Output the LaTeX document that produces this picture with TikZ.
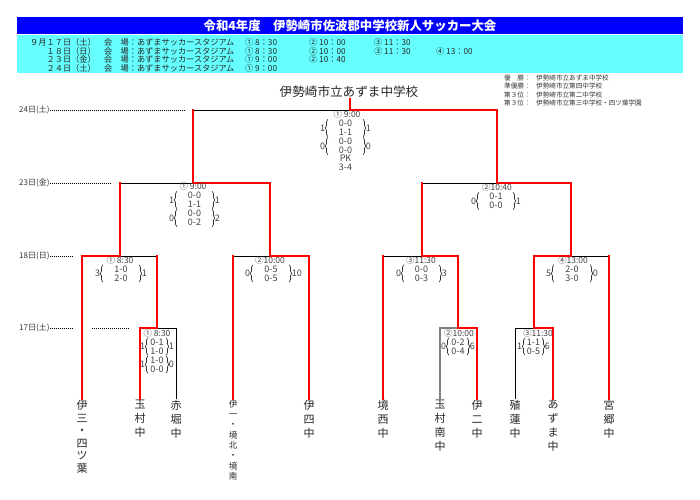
\documentclass[tikz,border=0pt]{standalone}
\usepackage{fontspec}
\setmainfont{Noto Sans CJK JP}
\usetikzlibrary{positioning}
\usetikzlibrary{decorations.pathreplacing}
\definecolor{barblue}{RGB}{0,0,255}
\definecolor{infocyan}{RGB}{102,255,255}
\tikzset{
	win/.style={draw=red, line width=2pt, line cap=rect},
	lose/.style={draw=black, line width=0.9pt},
	gone/.style={draw=black!50, line width=1.4pt},
	dotline/.style={draw=black, line width=0.6pt, dash pattern=on 1pt off 1pt},
	team/.style={
		anchor=north,
		align=center,
		inner sep=1pt,
		text=black!85,
		font=\fontsize{11}{14}\selectfont},
	score/.style={inner sep=0pt, text=black!75, font=\fontsize{9}{9}\selectfont},
	stime/.style={score, font=\fontsize{8.5}{9}\selectfont},
	pair/.style={score, align=center, minimum width=#1, minimum height=17pt},
	pair/.default=36pt,
	brc/.style={draw=black!80, line width=0.7pt, decorate, decoration={brace, amplitude=2.5pt}},
	day/.style={anchor=west, inner sep=0pt, text=black!80, font=\fontsize{8}{9}\selectfont},
	info/.style={anchor=west, inner sep=0pt, text=black!85, font=\fontsize{8.2}{9}\selectfont},
	prize/.style={anchor=west, inner sep=0pt, text=black!80, font=\fontsize{6.6}{7}\selectfont},
}
\begin{document}
\begin{tikzpicture}[x=1pt, y=-1pt]
	\useasboundingbox (0,0) rectangle (700,499);
	% header
	\fill[barblue] (17,17) rectangle (683,34);
	\node[text=white, font=\bfseries\fontsize{12.4}{13}\selectfont] (title) at (350,25.5) {令和4年度　伊勢崎市佐波郡中学校新人サッカー大会};
	\fill[infocyan] (17,35) rectangle (683,73);
	\foreach \d [count=\i] in {９月１７日（土）, １８日（日）, ２３日（金）, ２４日（土）} {
		\node[info, anchor=east] (date\i) at (96,{42.5+8.5*(\i-1)}) {\d};
		\node[info] (site\i) at (104,{42.5+8.5*(\i-1)}) {会　場：あずまサッカースタジアム};
	}
	\node[info] (ka) at (245,42.5) {① 8：30};
	\node[info] (kb) at (309,42.5) {② 10：00};
	\node[info] (kc) at (374,42.5) {③ 11：30};
	\node[info] (ya) at (245,51) {① 8：30};
	\node[info] (yb) at (309,51) {② 10：00};
	\node[info] (yc) at (374,51) {③ 11：30};
	\node[info] (yd) at (436,51) {④ 13：00};
	\node[info] (za) at (245,59.5) {① 9：00};
	\node[info] (zb) at (309,59.5) {② 10：40};
	\node[info] (wa) at (245,68) {① 9：00};
	% results
	\foreach \k/\v [count=\i] in {優　勝/伊勢崎市立あずま中学校, 準優勝/伊勢崎市立第四中学校, 第３位/伊勢崎市立第二中学校, 第３位/伊勢崎市立第三中学校・四ツ葉学園} {
		\node[prize] (rank\i) at (504,{77.5+8.5*(\i-1)}) {\k：};
		\node[prize] (winner\i) at (536,{77.5+8.5*(\i-1)}) {\v};
	}
	\node[font=\fontsize{12.6}{13}\selectfont, text=black!85, inner sep=1pt] (champ) at (349,92) {伊勢崎市立あずま中学校};

	% days
	\node[day] (d24) at (19,110) {24日(土)};
	\node[day] (d23) at (19,183) {23日(金)};
	\node[day] (d18) at (19,256) {18日(日)};
	\node[day] (d17) at (19,328) {17日(土)};
	\coordinate (e24) at (185,110);
	\coordinate (e23) at (110,183);
	\coordinate (e18) at (73,256);
	\coordinate (e17) at (73,328);
	\coordinate (a17) at (92,328);
	\coordinate (b17) at (129,328);
	\draw[dotline] (d24) -- (e24);
	\draw[dotline] (d23) -- (e23);
	\draw[dotline] (d18) -- (e18);
	\draw[dotline] (d17) -- (e17);
	\draw[dotline] (a17) -- (b17);

	% teams
	\node[team, font=\fontsize{11}{12.6}\selectfont] (ise3) at (82,399) {伊\\三\\・\\四\\ツ\\葉};
	\node[team] (tama) at (140,399) {玉\\村\\中};
	\node[team] (akab) at (176,399) {赤\\堀\\中};
	\node[team, font=\fontsize{8.5}{10.3}\selectfont] (ise1) at (233,399) {伊\\一\\・\\境\\北\\・\\境\\南};
	\node[team] (ise4) at (309,399) {伊\\四\\中};
	\node[team] (sakn) at (383,399) {境\\西\\中};
	\node[team] (tamn) at (440,399) {玉\\村\\南\\中};
	\node[team] (ise2) at (477,399) {伊\\二\\中};
	\node[team] (shok) at (515,399) {殖\\蓮\\中};
	\node[team] (azum) at (553,399) {あ\\ず\\ま\\中};
	\node[team] (miya) at (609,399) {宮\\郷\\中};

	% match points
	\coordinate (f) at (350,110);
	\coordinate (sl) at (193,183);
	\coordinate (sr) at (497,183);
	\coordinate (q1) at (120,256);
	\coordinate (q2) at (270,256);
	\coordinate (q3) at (422,256);
	\coordinate (q4) at (571,256);
	\coordinate (r1) at (157,328);
	\coordinate (r2) at (458,328);
	\coordinate (r3) at (534,328);

	% lost lines
	\draw[lose] (sl |- f) -- (f);
	\draw[lose] (q1 |- sl) -- (sl);
	\draw[lose] (q3 |- sr) -- (sr);
	\draw[lose] (r1 |- q1) -- (q1);
	\draw[lose] (akab.north) -- (akab.north |- r1) -- (r1);
	\draw[lose] (ise1.north |- q2) -- (q2);
	\draw[lose] (sakn.north |- q3) -- (q3);
	\draw[lose] (miya.north |- q4) -- (q4);
	\draw[lose] (shok.north) -- (shok.north |- r3) -- (r3);
	\draw[gone] (tamn.north) -- (tamn.north |- r2) -- (r2);
	% winning lines
	\draw[win] (champ.south -| f) -- (f) -- (f -| sr) -- (sr);
	\draw[win] (sl |- f) -- (sl) -- (q2 |- sl) -- (q2);
	\draw[win] (q1 |- sl) -- (q1) -- (q1 -| ise3.north) -- (ise3.north);
	\draw[win] (r1 |- q1) -- (r1) -- (r1 -| tama.north) -- (tama.north);
	\draw[win] (q2) -- (q2 -| ise4.north) -- (ise4.north);
	\draw[win] (ise1.north) -- (ise1.north |- q2);
	\draw[win] (sr) -- (q4 |- sr) -- (q4) -- (q4 -| r3) -- (r3) -- (r3 -| azum.north) -- (azum.north);
	\draw[win] (q3 |- sr) -- (q3) -- (q3 -| r2) -- (r2) -- (r2 -| ise2.north) -- (ise2.north);
	\draw[win] (sakn.north) -- (sakn.north |- q3);
	\draw[win] (miya.north) -- (miya.north |- q4);

	% scores
	\node[stime] (ft) at (347,114.5) {① 9:00};
	\node[pair=35pt] (f1) at (345.5,128) {0-0\\1-1};
	\node[pair=35pt] (f2) at (345.5,146) {0-0\\0-0};
	\node[score, align=center, below=0pt of f2] (fpk) {PK\\3-4};
	\node[score, left=2.5pt of f1] (f1l) {1};
	\node[score, right=2.5pt of f1] (f1r) {1};
	\node[score, left=2.5pt of f2] (f2l) {0};
	\node[score, right=2.5pt of f2] (f2r) {0};

	\node[stime] (slt) at (193,186.5) {① 9:00};
	\node[pair=35pt] (s1) at (194.5,200) {0-0\\1-1};
	\node[pair=35pt] (s2) at (194.5,218) {0-0\\0-2};
	\node[score, left=2.5pt of s1] (s1l) {1};
	\node[score, right=2.5pt of s1] (s1r) {1};
	\node[score, left=2.5pt of s2] (s2l) {0};
	\node[score, right=2.5pt of s2] (s2r) {2};

	\node[stime] (srt) at (497,187) {②10:40};
	\node[pair=34pt] (s3) at (496,201) {0-1\\0-0};
	\node[score, left=2.5pt of s3] (s3l) {0};
	\node[score, right=2.5pt of s3] (s3r) {1};

	\node[stime] (q1t) at (120,260) {① 8:30};
	\node[pair] (p1) at (121,273.5) {1-0\\2-0};
	\node[score, left=2.5pt of p1] (p1l) {3};
	\node[score, right=2.5pt of p1] (p1r) {1};

	\node[stime] (q2t) at (270,260) {②10:00};
	\node[pair] (p2) at (271,273.5) {0-5\\0-5};
	\node[score, left=2.5pt of p2] (p2l) {0};
	\node[score, right=2.5pt of p2] (p2r) {10};

	\node[stime] (q3t) at (421,260) {③11:30};
	\node[pair=35pt] (p3) at (421.5,273.5) {0-0\\0-3};
	\node[score, left=2.5pt of p3] (p3l) {0};
	\node[score, right=2.5pt of p3] (p3r) {3};

	\node[stime] (q4t) at (573,260) {④13:00};
	\node[pair] (p4) at (572,273.5) {2-0\\3-0};
	\node[score, left=2.5pt of p4] (p4l) {5};
	\node[score, right=2.5pt of p4] (p4r) {0};

	\node[stime] (r1t) at (157,333) {① 8:30};
	\node[pair=18pt] (g1) at (157,346.5) {0-1\\1-0};
	\node[pair=18pt] (g2) at (157,364.5) {1-0\\0-0};
	\node[score, left=2.5pt of g1] (g1l) {1};
	\node[score, right=2.5pt of g1] (g1r) {1};
	\node[score, left=2.5pt of g2] (g2l) {1};
	\node[score, right=2.5pt of g2] (g2r) {0};

	\node[stime] (r2t) at (459,333) {②10:00};
	\node[pair=18pt] (g3) at (458,346.5) {0-2\\0-4};
	\node[score, left=2.5pt of g3] (g3l) {0};
	\node[score, right=2.5pt of g3] (g3r) {6};

	\node[stime] (r3t) at (538,333) {③11:30};
	\node[pair=17pt] (g4) at (533.5,346.5) {1-1\\0-5};
	\node[score, left=2.5pt of g4] (g4l) {1};
	\node[score, right=2.5pt of g4] (g4r) {6};

	\foreach \p in {f1,f2,s1,s2,s3,p1,p2,p3,p4,g1,g2,g3,g4} {
		\draw[brc] (\p.south west) -- (\p.north west);
		\draw[brc] (\p.north east) -- (\p.south east);
	}
\end{tikzpicture}
\end{document}
